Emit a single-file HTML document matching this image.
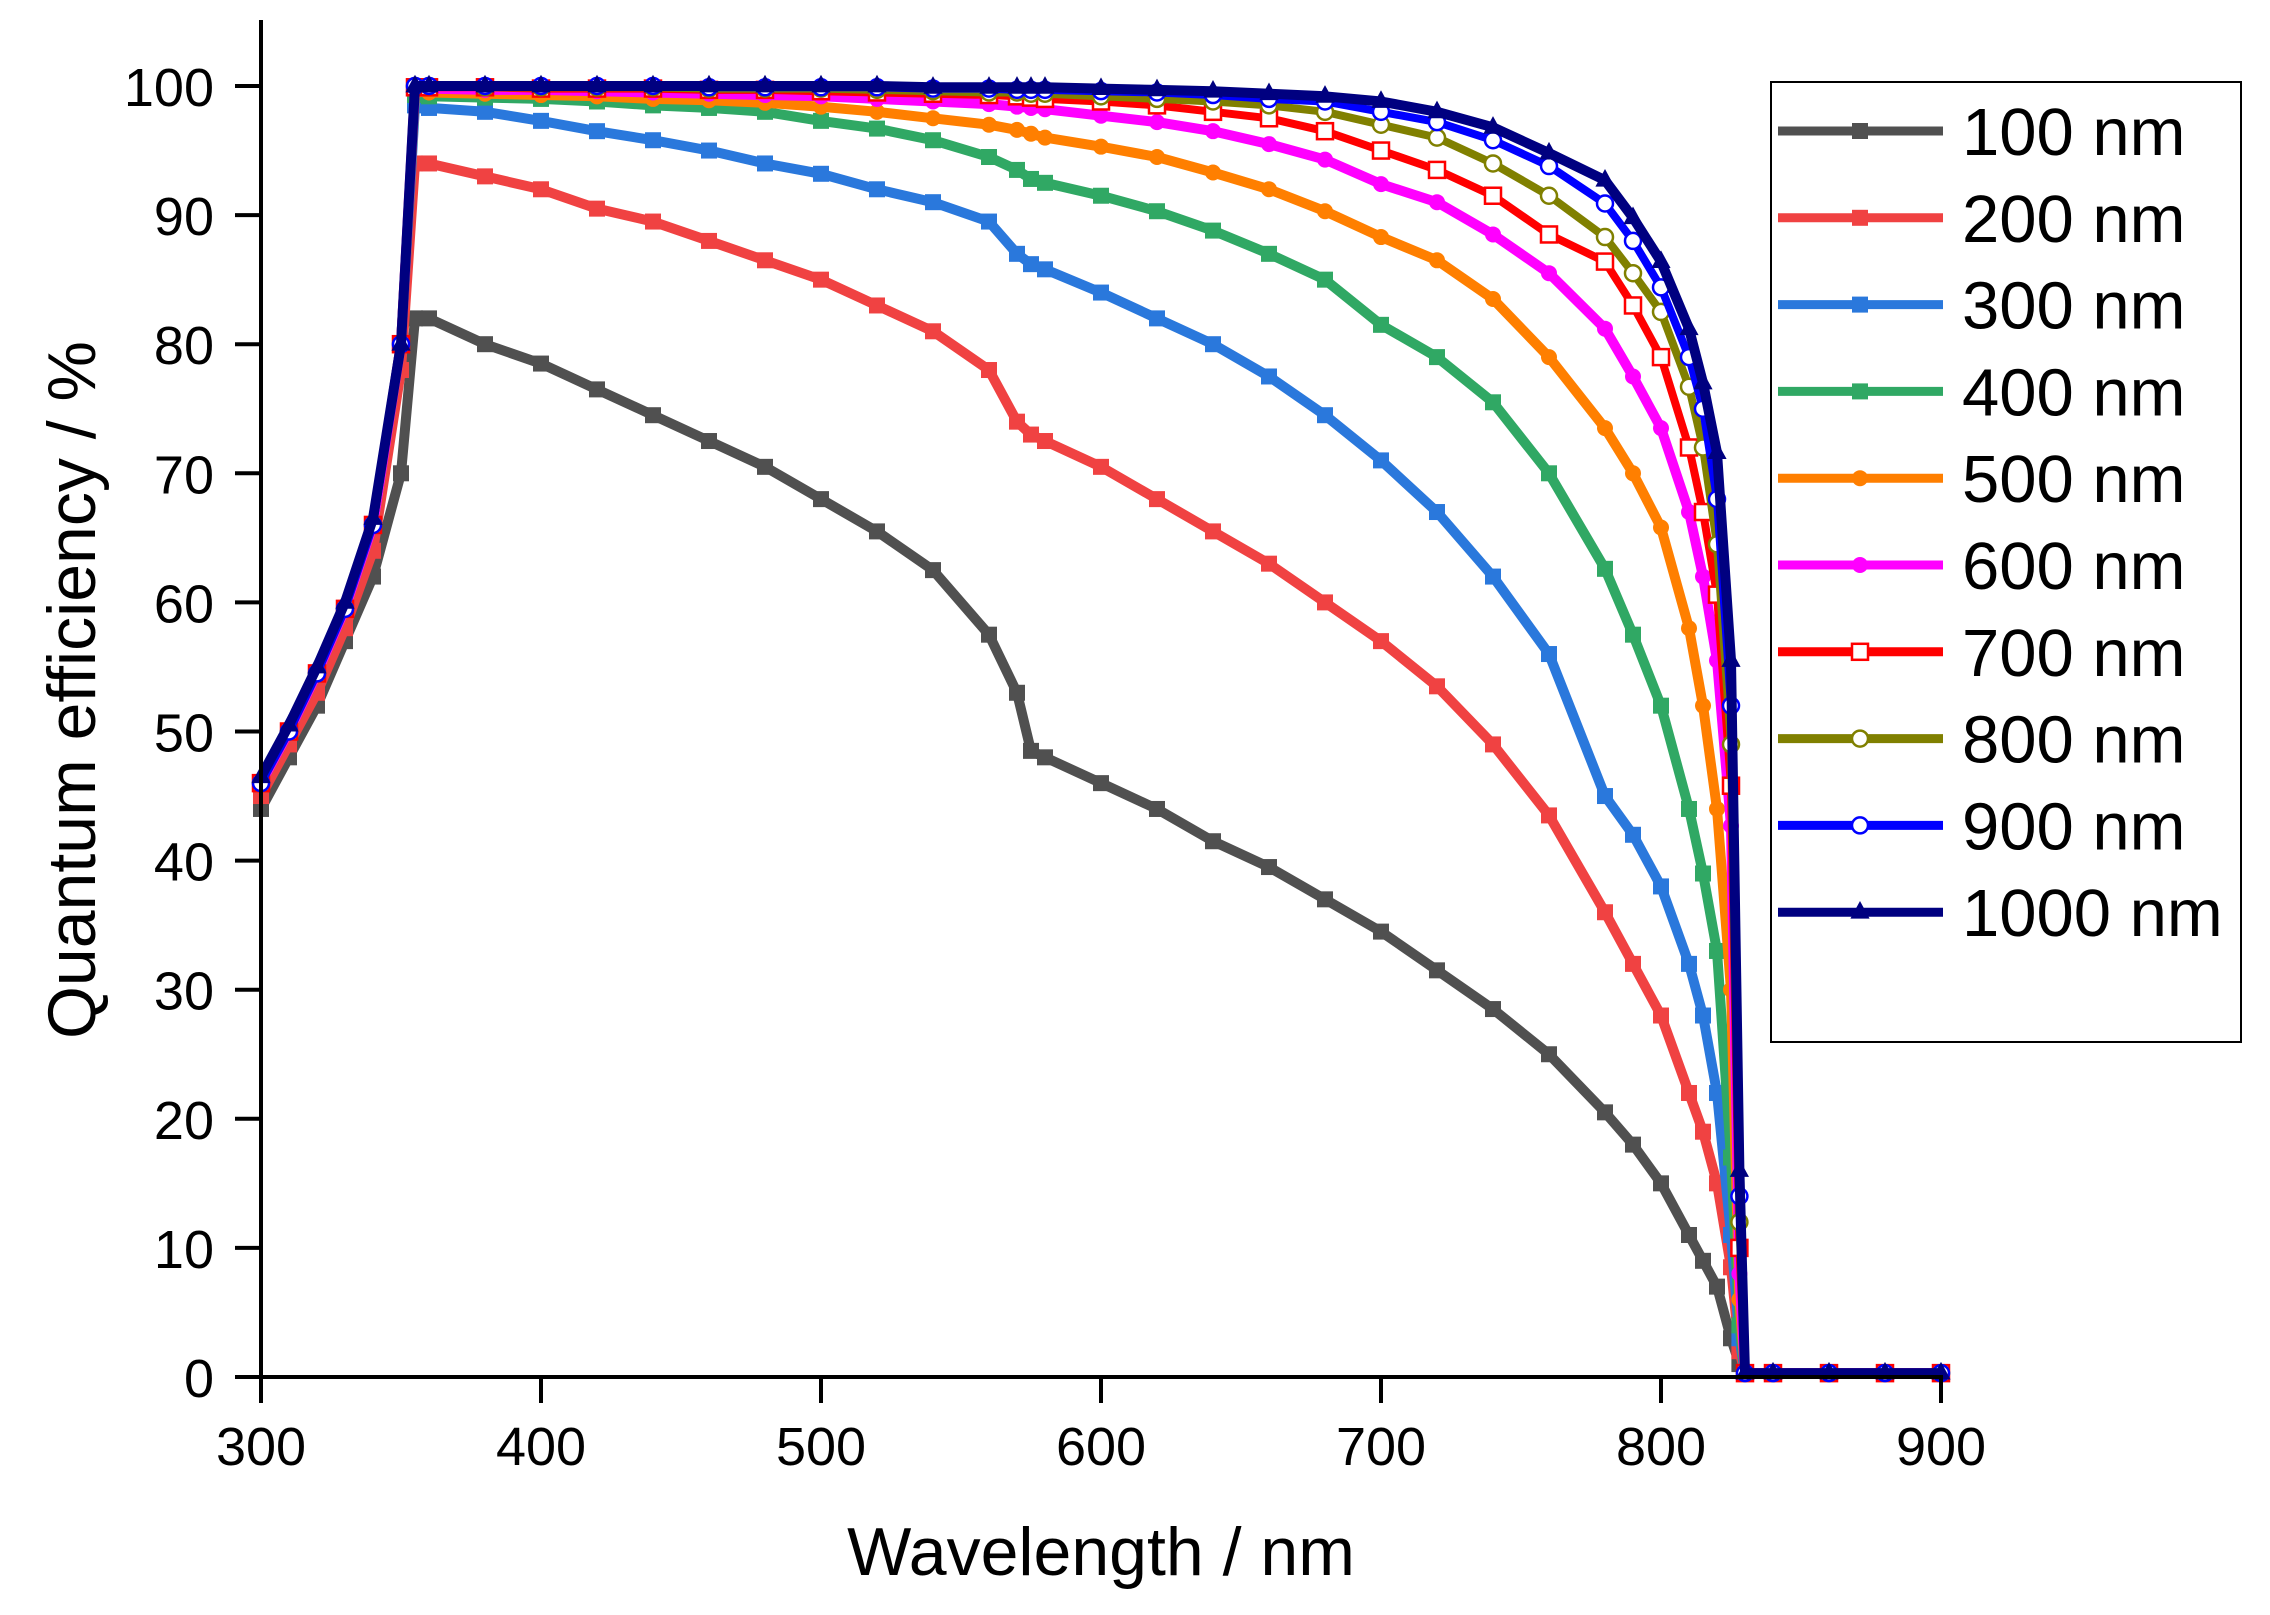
<!DOCTYPE html>
<html><head><meta charset="utf-8"><style>
html,body{margin:0;padding:0;background:#fff;}
svg{display:block;font-family:"Liberation Sans",Arial,sans-serif;}
</style></head><body>
<svg id="chart" width="2270" height="1615" viewBox="0 0 2270 1615" xmlns="http://www.w3.org/2000/svg">
<g id="plot"></g>
<g id="axes"></g>
<g id="legend"></g>
</svg>
<script>
const wavelengths = [300,310,320,330,340,350,355,360,380,400,420,440,460,480,500,520,540,560,570,575,580,600,620,640,660,680,700,720,740,760,780,790,800,810,815,820,825,828,830,840,860,880,900];
const seriesNames = ["100 nm","200 nm","300 nm","400 nm","500 nm","600 nm","700 nm","800 nm","900 nm","1000 nm"];
const qe100 = [44,48,52,57,62,70,82, 82,80,78.5,76.5,74.5,72.5,70.5,68,65.5,62.5,57.5, 53,48.5,48, 46,44,41.5,39.5,37, 34.5,31.5,28.5,25,20.5,18,15,11,9,7,3,1,0.3, 0.3,0.3,0.3,0.3];
const qe200 = [45,49,53,58,64,78,94, 94,93,92,90.5,89.5,88,86.5,85,83,81,78, 74,73,72.5, 70.5,68,65.5,63,60, 57,53.5,49,43.5,36,32,28,22,19,15,8.5,2,0.3, 0.3,0.3,0.3,0.3];
const qe300 = [46,50,54.5,59.5,66,80,98.5, 98.3,98,97.3,96.5,95.8,95,94,93.2,92,91,89.5, 87,86.2,85.8, 84,82,80,77.5,74.5, 71,67,62,56,45,42,38,32,28,22,11,3,0.3, 0.3,0.3,0.3,0.3];
const qe400 = [46,50,54.5,59.5,66,80,99.3, 99.2,99.1,99,98.8,98.5,98.3,98,97.3,96.7,95.8,94.5, 93.5,92.8,92.5, 91.5,90.3,88.8,87,85, 81.5,79,75.5,70,62.6,57.5,52,44,39,33,17,4,0.3, 0.3,0.3,0.3,0.3];
const qe500 = [46,50,54.5,59.5,66,80,99.6, 99.5,99.4,99.3,99.2,99,98.9,98.7,98.4,98,97.5,97, 96.6,96.3,96, 95.3,94.5,93.3,92,90.3, 88.3,86.5,83.5,79,73.5,70,65.8,58,52,44,30,6,0.3, 0.3,0.3,0.3,0.3];
const qe600 = [46,50,54.5,59.5,66,80,99.8, 99.8,99.7,99.7,99.6,99.5,99.4,99.3,99.2,99,98.8,98.6, 98.4,98.3,98.2, 97.7,97.2,96.5,95.5,94.3, 92.4,91,88.5,85.5,81.2,77.5,73.5,67,62,55.5,42.7,8,0.3, 0.3,0.3,0.3,0.3];
const qe700 = [46,50,54.5,59.5,66,80,99.9, 99.9,99.9,99.8,99.8,99.8,99.7,99.7,99.6,99.5,99.4,99.3, 99.2,99.1,99, 98.8,98.5,98,97.5,96.5, 95,93.5,91.5,88.5,86.4,83,79,72,67,60.6,45.8,10,0.3, 0.3,0.3,0.3,0.3];
const qe800 = [46,50,54.5,59.5,66,80,100, 100,99.9,99.9,99.9,99.9,99.8,99.8,99.8,99.7,99.6,99.5, 99.5,99.4,99.4, 99.2,99,98.8,98.5,98, 97,96,94,91.5,88.3,85.5,82.5,76.7,72,64.5,49,12,0.3, 0.3,0.3,0.3,0.3];
const qe900 = [46,50,54.5,59.5,66,80,100, 100,100,100,100,100,99.9,99.9,99.9,99.9,99.8,99.8, 99.7,99.7,99.7, 99.6,99.5,99.3,99,98.8, 98,97.2,95.8,93.8,90.9,88,84.4,79,75,68,52,14,0.3, 0.3,0.3,0.3,0.3];
const qe1000 = [46.5,50.5,55,60,66.5,80,100, 100,100,100,100,100,100,100,100,100,99.9,99.9, 99.9,99.9,99.9, 99.8,99.7,99.6,99.4,99.2, 98.8,98,96.8,94.8,92.7,89.8,86.4,81.2,77,71.6,55.5,16,0.3, 0.3,0.3,0.3,0.3];
const xTicks = [300,400,500,600,700,800,900];
const yTicks = [0,10,20,30,40,50,60,70,80,90,100];

const allSeries = [qe100,qe200,qe300,qe400,qe500,qe600,qe700,qe800,qe900,qe1000];
const colors = ["#505050","#f04242","#2a78dc","#30a864","#ff7f00","#ff00ff","#ff0000","#808000","#0000ff","#000080"];
const markers = ["sq","sq","sq","sq","ci","ci","hsq","hci","hci","tri"];

const NS="http://www.w3.org/2000/svg";
const X0=261, X1=1941, Y0=1377, Y1=86;
function xs(v){return X0+(v-300)/(900-300)*(X1-X0);}
function ys(v){return Y0-(v-0)/(100-0)*(Y0-Y1);}
function mk(tag,attrs,parent){const e=document.createElementNS(NS,tag);for(const k in attrs)e.setAttribute(k,attrs[k]);parent.appendChild(e);return e;}

const plot=document.getElementById('plot');
function marker(type,x,y,col,parent,s){
  let m;
  if(type==="sq"||type==="hsq"){m=mk('rect',{x:x-s,y:y-s,width:2*s,height:2*s,fill:type==="sq"?col:"#fff",stroke:col,'stroke-width':type==="sq"?0:2.5},parent);}
  else if(type==="ci"||type==="hci"){m=mk('circle',{cx:x,cy:y,r:s,fill:type==="ci"?col:"#fff",stroke:col,'stroke-width':type==="ci"?0:2.5},parent);}
  else {m=mk('polygon',{points:`${x},${y-s*1.4} ${x-s*1.2},${y+s*0.8} ${x+s*1.2},${y+s*0.8}`,fill:col},parent);}
  return m;
}
allSeries.forEach((vals,i)=>{
  const g=mk('g',{},plot);
  
  
  const pts=wavelengths.map((w,j)=>xs(w).toFixed(1)+','+ys(vals[j]).toFixed(1)).join(' ');
  const pl=mk('polyline',{points:pts,fill:'none',stroke:colors[i],'stroke-width':(i>=6&&i<=8)?8:10,'stroke-linejoin':'round'},g);
  
  
  wavelengths.forEach((w,j)=>{
    const m=marker(markers[i],xs(w),ys(vals[j]),colors[i],g,8);
    
    
  });
});

const axes=document.getElementById('axes');
const yl=mk('line',{x1:X0,y1:20,x2:X0,y2:Y0+2,stroke:'#000','stroke-width':4},axes);


const xl=mk('line',{x1:X0-2,y1:Y0,x2:X1+2,y2:Y0,stroke:'#000','stroke-width':4},axes);


xTicks.forEach(t=>{
  const l=mk('line',{x1:xs(t),y1:Y0,x2:xs(t),y2:Y0+26,stroke:'#000','stroke-width':4},axes);
  
  
  const tx=mk('text',{x:xs(t),y:1465,'font-size':54,'text-anchor':'middle',fill:'#000'},axes);
  tx.textContent=t;
  
  
});
yTicks.forEach(t=>{
  const l=mk('line',{x1:X0-26,y1:ys(t),x2:X0,y2:ys(t),stroke:'#000','stroke-width':4},axes);
  
  
  const tx=mk('text',{x:214,y:ys(t)+20,'font-size':54,'text-anchor':'end',fill:'#000'},axes);
  tx.textContent=t;
  
  
});
const xt=mk('text',{x:1101,y:1575,'font-size':68,'text-anchor':'middle',fill:'#000'},axes);
xt.textContent='Wavelength / nm';


const yt=mk('text',{x:0,y:0,'font-size':68,'text-anchor':'middle',fill:'#000',transform:'translate(95,690) rotate(-90)'},axes);
yt.textContent='Quantum efficiency / %';



const lg=document.getElementById('legend');
const box=mk('rect',{x:1771,y:82,width:470,height:960,fill:'#fff',stroke:'#000','stroke-width':2},lg);


seriesNames.forEach((n,i)=>{
  const y=131+i*86.8;
  const g=mk('g',{},lg);
  
  
  mk('line',{x1:1778,y1:y,x2:1943,y2:y,stroke:colors[i],'stroke-width':9},g);
  marker(markers[i],1860,y,colors[i],g,8);
  const t=mk('text',{x:1962,y:y+24,'font-size':67,fill:'#000'},g);
  t.textContent=n;
});
</script>
</body></html>
